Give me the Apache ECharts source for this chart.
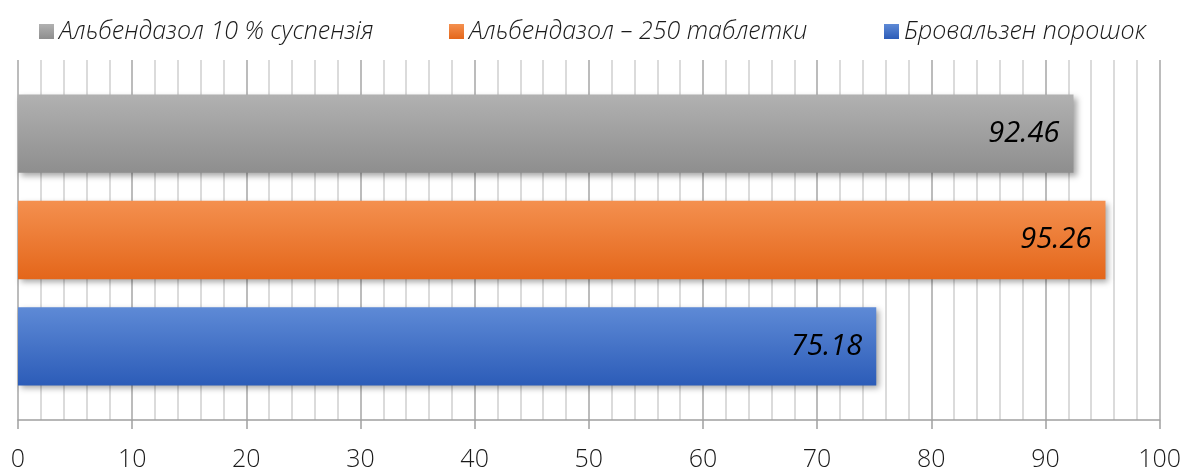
<!DOCTYPE html>
<html><head><meta charset="utf-8">
<script src="https://cdn.jsdelivr.net/npm/echarts@6/dist/echarts.min.js"></script>
<style>html,body{margin:0;padding:0;background:#fff}#c{width:1184px;height:472px}</style>
</head><body><div id="c"></div>
<script>
const seriesNames = ['Альбендазол 10 % суспензія', 'Альбендазол – 250 таблетки', 'Бровальзен порошок'];
const values = [92.46, 95.26, 75.18];
const category = [''];
const xTicks = [0, 10, 20, 30, 40, 50, 60, 70, 80, 90, 100];
const gradients = [['#b1b1b1', '#8e8e8e'], ['#f4904f', '#e4661a'], ['#5e8ad6', '#2c5cb8']];
const legendLeft = [34, 444, 879];

const chart = echarts.init(document.getElementById('c'));
const FONT = '"Open Sans", "Noto Sans", sans-serif';
chart.setOption({
  animation: false,
  legend: seriesNames.map((n, i) => ({
    top: 14, left: legendLeft[i], itemWidth: 15, itemHeight: 15,
    icon: 'rect',
    textStyle: { fontFamily: FONT, fontStyle: 'italic', fontWeight: 300, fontSize: 25, color: '#1a1a1a' },
    data: [n]
  })),
  grid: { left: 18, right: 24, top: 60, bottom: 48.7 },
  xAxis: {
    type: 'value', min: xTicks[0], max: xTicks[xTicks.length - 1], interval: 10,
    axisLine: { show: true, lineStyle: { color: '#a0a0a0', width: 1.5 } },
    axisTick: { show: true, length: 9, lineStyle: { color: '#a0a0a0', width: 1.5 } },
    axisLabel: { fontFamily: FONT, fontWeight: 300, fontSize: 25, color: '#1a1a1a', margin: 27 },
    splitLine: { show: true, lineStyle: { color: '#a6a6a6', width: 1.5 } },
    minorTick: { show: false, splitNumber: 5 },
    minorSplitLine: { show: true, lineStyle: { color: '#cfcfcf', width: 1.5 } }
  },
  yAxis: {
    type: 'category', data: category, inverse: true,
    axisLine: { show: false }, axisTick: { show: false }, axisLabel: { show: false }
  },
  series: seriesNames.map((name, i) => ({
    name, type: 'bar',
    data: [values[i]],
    barGap: '35.8%', barCategoryGap: '19.2%',
    itemStyle: {
      color: new echarts.graphic.LinearGradient(0, 0, 0, 1, [
        { offset: 0, color: gradients[i][0] }, { offset: 1, color: gradients[i][1] }
      ]),
      shadowColor: 'rgba(0,0,0,0.35)', shadowBlur: 6, shadowOffsetX: 3, shadowOffsetY: 3
    },
    label: {
      show: true, position: 'insideRight', distance: 14,
      formatter: p => p.value.toFixed(2),
      fontFamily: FONT, fontStyle: 'italic', fontSize: 29, color: '#000'
    }
  }))
});
</script></body></html>
